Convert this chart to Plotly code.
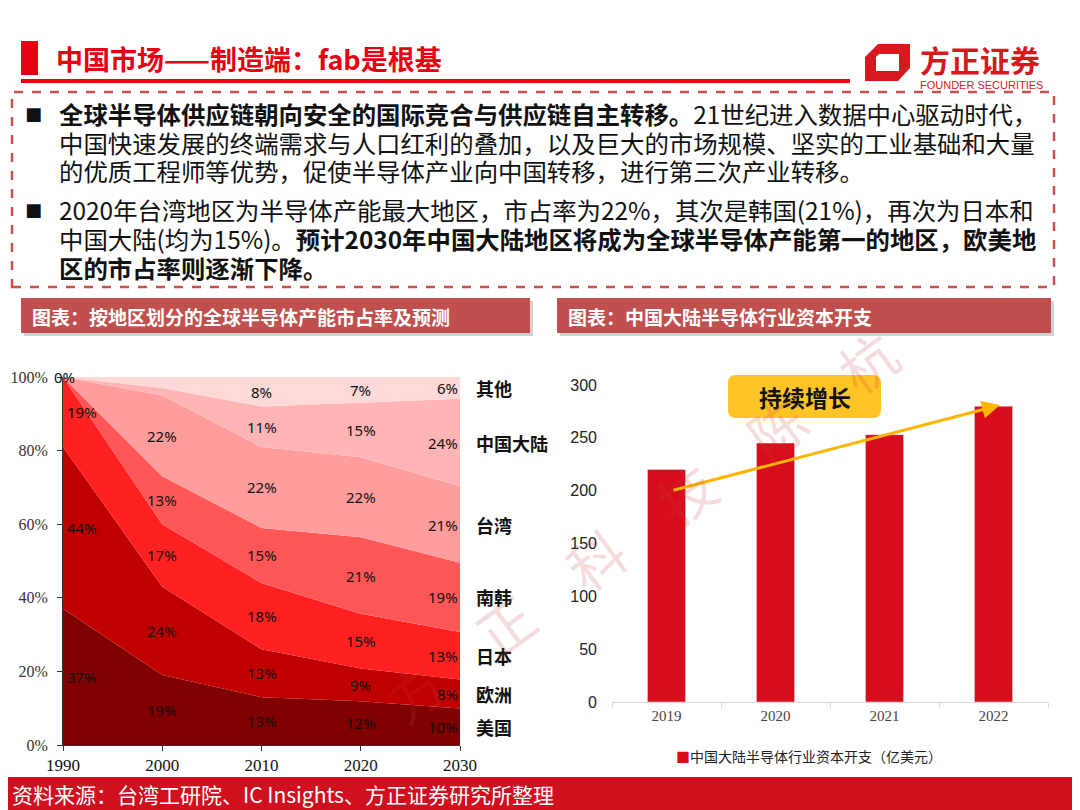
import numpy as np
import plotly.graph_objects as go

W, H = 1080, 810
OFF = 8  # the page body margin shifts the figure by 8px; compensate
FW, FH = W - OFF, H - OFF

# ---- data: global fab capacity share by region (%), stacked bottom -> top
years = [1990, 2000, 2010, 2020, 2030]
regions = ["美国", "欧洲", "日本", "南韩", "台湾", "中国大陆", "其他"]
share_us = [37, 19, 13, 12, 10]
share_eu = [44, 24, 13, 9, 8]
share_jp = [19, 17, 18, 15, 13]
share_kr = [0, 13, 15, 21, 19]
share_tw = [0, 22, 22, 22, 21]
share_cn = [0, 2, 11, 15, 24]
share_other = [0, 3, 8, 7, 6]
region_colors = ["#800000", "#C00000", "#FF2121", "#FF5757", "#FF9C9C", "#FFB5B5", "#FFD8D8"]
pct_ticks = [0, 20, 40, 60, 80, 100]

# ---- data: China mainland semiconductor capex (亿美元)
capex_years = ["2019", "2020", "2021", "2022"]
capex = [220, 245, 253, 280]

shares = [share_us, share_eu, share_jp, share_kr, share_tw, share_cn, share_other]


def px(x):
    return (x - OFF) / FW


def py(y):
    return 1 - (y - OFF) / FH


def text_at(x, y, text, size, color="#111", family="Noto Sans CJK SC", xanchor="left", **kw):
    # paper-positioned text given in window pixel coordinates
    return dict(x=px(x), y=py(y), xref="paper", yref="paper", text=text, showarrow=False,
                xanchor=xanchor, yanchor="middle",
                font=dict(size=size, color=color, family=family), **kw)


fig = go.Figure()

for name, vals, col in zip(regions, shares, region_colors):
    fig.add_trace(go.Scatter(
        x=years, y=vals, name=name, mode="lines",
        stackgroup="share", groupnorm="percent",
        line=dict(width=0, color=col), fillcolor=col,
        showlegend=False, hoverinfo="skip",
        xaxis="x", yaxis="y"))

fig.add_trace(go.Bar(
    x=capex_years, y=capex, marker_color="#D60E1B", width=0.35,
    showlegend=False, xaxis="x2", yaxis="y2"))

annotations = []

# in-chart percent labels at segment midpoints (normalized like the chart)
arr = np.array(shares, dtype=float)
norm = arr / arr.sum(axis=0) * 100
cum = np.cumsum(norm, axis=0)
for j, yr in enumerate(years):
    for i in range(len(regions)):
        v = shares[i][j]
        if v == 0 or (yr == 2000 and i >= 5):
            continue
        mid = cum[i][j] - norm[i][j] / 2
        if yr == 1990:
            xa, xs = "left", 2
        elif yr == 2030:
            xa, xs = "right", 0
        else:
            xa, xs = "center", 0
        annotations.append(dict(
            x=yr, y=mid, xref="x", yref="y", text=f"{v}%", showarrow=False,
            xanchor=xa, yanchor="middle", xshift=xs,
            font=dict(size=15, color="#111", family="Noto Sans")))
annotations.append(dict(x=1990, y=100, xref="x", yref="y", text="0%", showarrow=False,
                        xanchor="left", yanchor="middle", xshift=-11,
                        font=dict(size=15, color="#111", family="Noto Sans")))

# region names at right of stacked chart
for i, name in enumerate(regions):
    mid = cum[i][-1] - norm[i][-1] / 2
    annotations.append(dict(
        x=2030, y=mid, xref="x", yref="y", text=f"<b>{name}</b>", showarrow=False,
        xanchor="left", yanchor="middle", xshift=14,
        font=dict(size=18, color="#111", family="Noto Sans CJK SC")))

# growth arrow over bars
annotations.append(dict(
    x=3.06, y=281, ax=0.05, ay=200, xref="x2", yref="y2", axref="x2", ayref="y2",
    showarrow=True, arrowhead=2, arrowsize=1.2, arrowwidth=3, arrowcolor="#FFB400", text=""))
annotations.append(text_at(805, 397, "<b>持续增长</b>", 23, xanchor="center"))
annotations.append(text_at(674, 756,
                           "<span style='color:#D60E1B'>■</span>中国大陆半导体行业资本开支（亿美元）",
                           14, color="#222"))

# header
annotations.append(text_at(54, 59, "<b>中国市场——制造端：fab是根基</b>", 27, color="#E60012"))
annotations.append(text_at(918, 59, "<b>方正证券</b>", 30, color="#D7191F"))
annotations.append(text_at(918, 85, "FOUNDER SECURITIES", 11, color="#D7191F",
                           family="Liberation Sans Narrow, Liberation Sans"))

body = [
    (113, "<b>全球半导体供应链朝向安全的国际竞合与供应链自主转移。</b>21世纪进入数据中心驱动时代，"),
    (142, "中国快速发展的终端需求与人口红利的叠加，以及巨大的市场规模、坚实的工业基础和大量"),
    (171, "的优质工程师等优势，促使半导体产业向中国转移，进行第三次产业转移。"),
    (209, "2020年台湾地区为半导体产能最大地区，市占率为22%，其次是韩国(21%)，再次为日本和"),
    (238, "中国大陆(均为15%)。<b>预计2030年中国大陆地区将成为全球半导体产能第一的地区，欧美地</b>"),
    (267, "<b>区的市占率则逐渐下降。</b>"),
]
for yy, t in body:
    annotations.append(text_at(57, yy, t, 24.4))
for yy in (113, 209):
    annotations.append(text_at(33, yy, "■", 18, family="DejaVu Sans", xanchor="center"))

annotations.append(text_at(30, 316, "<b>图表：按地区划分的全球半导体产能市占率及预测</b>", 19, color="white"))
annotations.append(text_at(566, 316, "<b>图表：中国大陆半导体行业资本开支</b>", 19, color="white"))
annotations.append(text_at(10, 794, "资料来源：台湾工研院、IC Insights、方正证券研究所整理", 21, color="white"))

# watermark
annotations.append(text_at(640, 525, "方　正　科　技　陈　杭", 56, color="rgba(200,60,60,0.18)",
                           xanchor="center", textangle=-36))


def rect(x0, y0, x1, y1, **kw):
    return dict(type="rect", xref="paper", yref="paper",
                x0=px(x0), x1=px(x1), y0=py(y1), y1=py(y0), **kw)


def rounded(x0, y0, x1, y1, r, color):
    p = (f"M {px(x0 + r)} {py(y0)} L {px(x1 - r)} {py(y0)} "
         f"Q {px(x1)} {py(y0)} {px(x1)} {py(y0 + r)} L {px(x1)} {py(y1 - r)} "
         f"Q {px(x1)} {py(y1)} {px(x1 - r)} {py(y1)} L {px(x0 + r)} {py(y1)} "
         f"Q {px(x0)} {py(y1)} {px(x0)} {py(y1 - r)} L {px(x0)} {py(y0 + r)} "
         f"Q {px(x0)} {py(y0)} {px(x0 + r)} {py(y0)} Z")
    return dict(type="path", xref="paper", yref="paper", path=p,
                fillcolor=color, line=dict(width=0), layer="below")


def poly(points, color):
    p = "M " + " L ".join(f"{px(a)} {py(b)}" for a, b in points) + " Z"
    return dict(type="path", xref="paper", yref="paper", path=p,
                fillcolor=color, line=dict(width=0))


shapes = [
    rect(21, 41, 38, 75, fillcolor="#E60012", line=dict(width=0)),
    rect(21, 79, 850, 83, fillcolor="#E60012", line=dict(width=0)),
    rect(12, 92, 1054, 287, line=dict(color="#C9504E", width=2.5, dash="dash")),
    rect(24, 301, 533, 336, fillcolor="rgba(0,0,0,0.18)", line=dict(width=0), layer="below"),
    rect(21, 298, 530, 333, fillcolor="#C0504D", line=dict(width=0), layer="below"),
    rect(560, 301, 1054, 336, fillcolor="rgba(0,0,0,0.18)", line=dict(width=0), layer="below"),
    rect(557, 298, 1051, 333, fillcolor="#C0504D", line=dict(width=0), layer="below"),
    rect(OFF, 777, 1080, 810, fillcolor="#D0101F", line=dict(width=0), layer="below"),
    rounded(728, 375, 881, 418, 8, "#FFC425"),
    # logo mark
    poly([(878, 44), (910, 44), (910, 68), (898, 81), (865, 81), (865, 57)], "#D7191F"),
    poly([(879, 54), (899, 54), (899, 71), (876, 71), (876, 57)], "white"),
]

fig.update_layout(
    width=FW, height=FH, margin=dict(l=0, r=0, t=0, b=0, pad=0),
    paper_bgcolor="white", plot_bgcolor="white",
    annotations=annotations, shapes=shapes,
    xaxis=dict(domain=[px(63), px(460)], range=[1990, 2030], anchor="y", automargin=False,
               tickvals=years, ticks="outside", ticklen=5, tickcolor="#333",
               showline=True, linecolor="#333", showgrid=False, zeroline=False,
               tickfont=dict(size=17, family="Liberation Serif", color="#111")),
    yaxis=dict(domain=[py(745), py(377)], range=[0, 100], anchor="x", automargin=False,
               tickvals=pct_ticks, ticktext=[f"{v}%" for v in pct_ticks], ticks="outside",
               ticklen=5, tickcolor="#333", showline=True, linecolor="#333",
               showgrid=False, zeroline=False, ticklabelstandoff=6,
               tickfont=dict(size=16, family="Liberation Serif", color="#333")),
    xaxis2=dict(domain=[px(612), px(1048)], anchor="y2", type="category", automargin=False,
                ticks="outside", tickson="boundaries", ticklen=5, tickcolor="#D9D9D9",
                showline=True, linecolor="#D9D9D9", showgrid=False,
                tickfont=dict(size=15, family="Liberation Serif", color="#444")),
    yaxis2=dict(domain=[py(702), py(385)], range=[0, 300], anchor="x2", automargin=False,
                tickvals=[0, 50, 100, 150, 200, 250, 300], showgrid=False,
                zeroline=False, showline=False, ticklabelstandoff=14,
                tickfont=dict(size=16, family="Liberation Sans", color="#222")),
)

fig.write_html("out.html")
